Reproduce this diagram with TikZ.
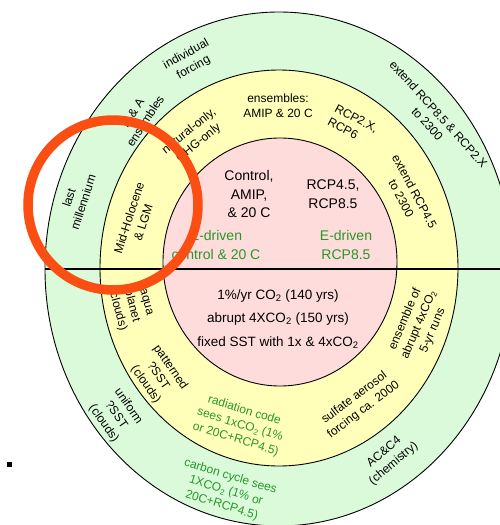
\documentclass[tikz,border=0pt]{standalone}
\usepackage{fontspec}
\setmainfont{Liberation Sans}
\definecolor{ringgreen}{RGB}{218,250,218}
\definecolor{ringyellow}{RGB}{255,255,185}
\definecolor{ringpink}{RGB}{255,220,220}
\definecolor{txtgreen}{RGB}{40,150,40}
\definecolor{redring}{RGB}{250,78,18}
\newcommand\cosub{CO\textsubscript{2}}
\tikzset{
  ringtxt/.style={font=\fontsize{12}{15}\selectfont, align=center, inner sep=0pt},
  ctxt/.style={font=\fontsize{14}{18.5}\selectfont, align=center, inner sep=0pt},
  ctxtb/.style={font=\fontsize{13.5}{23.5}\selectfont, align=center, inner sep=0pt},
  gtxt/.style={text=txtgreen},
  ringline/.style={draw=black, line width=0.9pt}
}
\begin{document}
\begin{tikzpicture}[x=1pt,y=-1pt]
\useasboundingbox (0,0) rectangle (500,525);
\clip (0,0) rectangle (500,525);
% rings
\fill[white] (0,0) rectangle (500,525);
\path[ringline, fill=ringgreen] (279,269) ellipse [x radius=234, y radius=257];
\path[ringline, fill=ringyellow] (279,268) ellipse [x radius=179, y radius=198];
\path[ringline, fill=ringpink] (280,262) ellipse [x radius=117, y radius=124];
% horizontal line
\draw[line width=2pt] (45,269) -- (500,269);
% pink texts
\node[ctxt] (ctrl) at (249,194) {Control,\\AMIP,\\\& 20 C};
\node[ctxt] (rcp) at (333,194) {RCP4.5,\\RCP8.5};
\node[ctxt,gtxt] (edc) at (216,245) {E-driven\\control \& 20 C};
\node[ctxt,gtxt] (edr) at (346,245) {E-driven\\RCP8.5};
\node[ctxtb] (lower) at (278,319) {1\%/yr \cosub{} (140 yrs)\\abrupt 4X\cosub{} (150 yrs)\\fixed SST with 1x \& 4x\cosub};
% yellow ring texts
\node[ringtxt] (ens) at (278,106) {ensembles:\\AMIP \& 20 C};
\node[ringtxt, rotate=39] (nat) at (194,137) {natural-only,\\GHG-only};
\node[ringtxt, rotate=-28, align=left] (rcp2) at (353,125) {RCP2.X,\\RCP6};
\node[ringtxt, rotate=-62] (ext45) at (408,195) {extend RCP4.5\\to 2300};
\node[ringtxt, rotate=72] (mid) at (136,220) {Mid-Holocene\\\& LGM};
\node[ringtxt, rotate=-75] (aqua) at (131,306) {aqua\\planet\\(clouds)};
\node[ringtxt, rotate=-55] (patt) at (158,376) {patterned\\?SST\\(clouds)};
\node[ringtxt, gtxt, rotate=-17] (rad) at (240,425) {radiation code\\sees 1x\cosub{} (1\%\\or 20C+RCP4.5)};
\node[ringtxt, rotate=37] (sulf) at (359,404) {sulfate aerosol\\forcing ca. 2000};
\node[ringtxt, rotate=67] (ens4) at (419,325) {ensemble of\\abrupt 4x\cosub\\5-yr runs};
% green ring texts
\node[ringtxt, rotate=29] (indiv) at (190,61) {individual\\forcing};
\node[ringtxt, rotate=57] (dna) at (139,117) {D \& A\\ensembles};
\node[ringtxt, rotate=72] (last) at (76,200) {last\\millennium};
\node[ringtxt, rotate=-55] (unif) at (116,415) {uniform\\?SST\\(clouds)};
\node[ringtxt, gtxt, rotate=-17] (carb) at (226,491) {carbon cycle sees\\1X\cosub{} (1\% or\\20C+RCP4.5)};
\node[ringtxt, rotate=40] (acc4) at (389,458) {AC\&C4\\(chemistry)};
\node[ringtxt, rotate=-48] (ext85) at (433,119) {extend RCP8.5 \& RCP2.X\\to 2300};
% red highlight circle
\draw[redring, line width=9.5pt] (113,205) circle [radius=85];
% small square
\fill[black] (7,462) rectangle (12,467);
\end{tikzpicture}
\end{document}
